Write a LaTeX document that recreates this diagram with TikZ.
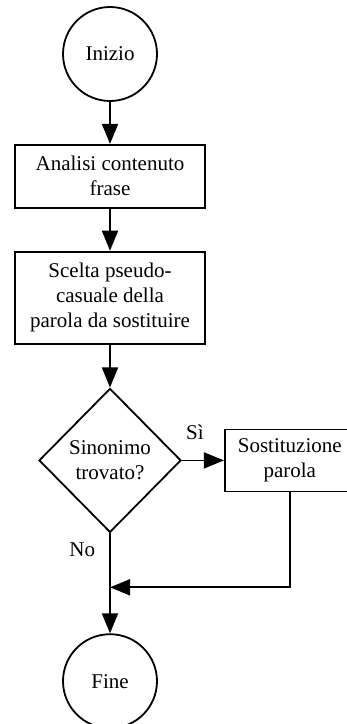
\documentclass[tikz,border=0pt]{standalone}
\usepackage{fontspec}
\setmainfont{Liberation Serif}
\usetikzlibrary{arrows.meta,positioning,shapes.geometric}

\begin{document}
\begin{tikzpicture}[x=1pt,y=1pt,node distance=42pt and 42pt,term/.style={draw,circle,line width=1.8pt,minimum size=94pt,inner sep=0pt,font=\fontsize{21}{25}\selectfont},box/.style={draw,line width=1.8pt,minimum width=190pt,align=center,font=\fontsize{21}{25}\selectfont},dec/.style={draw,diamond,aspect=1,line width=1.8pt,minimum width=142pt,minimum height=144pt,inner sep=0pt,align=center,font=\fontsize{21}{25}\selectfont},lbl/.style={inner sep=0pt,font=\fontsize{21}{25}\selectfont},arr/.style={-{Triangle[length=20pt,width=16pt]},line width=1.8pt}]
\useasboundingbox (0,0) rectangle (346,-724);
\node[term] (inizio) at (110,-54) {Inizio};
\node[box,minimum height=63pt,below=of inizio] (analisi) {Analisi contenuto\\frase};
\node[box,minimum height=92pt,below=of analisi] (scelta) {Scelta pseudo-\\casuale della\\parola da sostituire};
\node[dec,below=43pt of scelta] (sinonimo) {Sinonimo\\trovato?};
\node[box,minimum width=130pt,minimum height=62pt,right=42pt of sinonimo] (sost) {Sostituzione\\parola};
\coordinate[below=54pt of sinonimo] (unione);
\node[term,below=100pt of sinonimo] (fine) {Fine};
\draw[arr](inizio)--(analisi);\draw[arr](analisi)--(scelta);\draw[arr](scelta)--(sinonimo);\draw[arr](sinonimo)--node[lbl,above=20pt,pos=0.31] (si) {Sì}(sost);\draw[arr](sinonimo)--node[lbl,left=14pt,pos=0.16] (no) {No}(fine);\draw[arr](sost)|-(unione);
\end{tikzpicture}
\end{document}
